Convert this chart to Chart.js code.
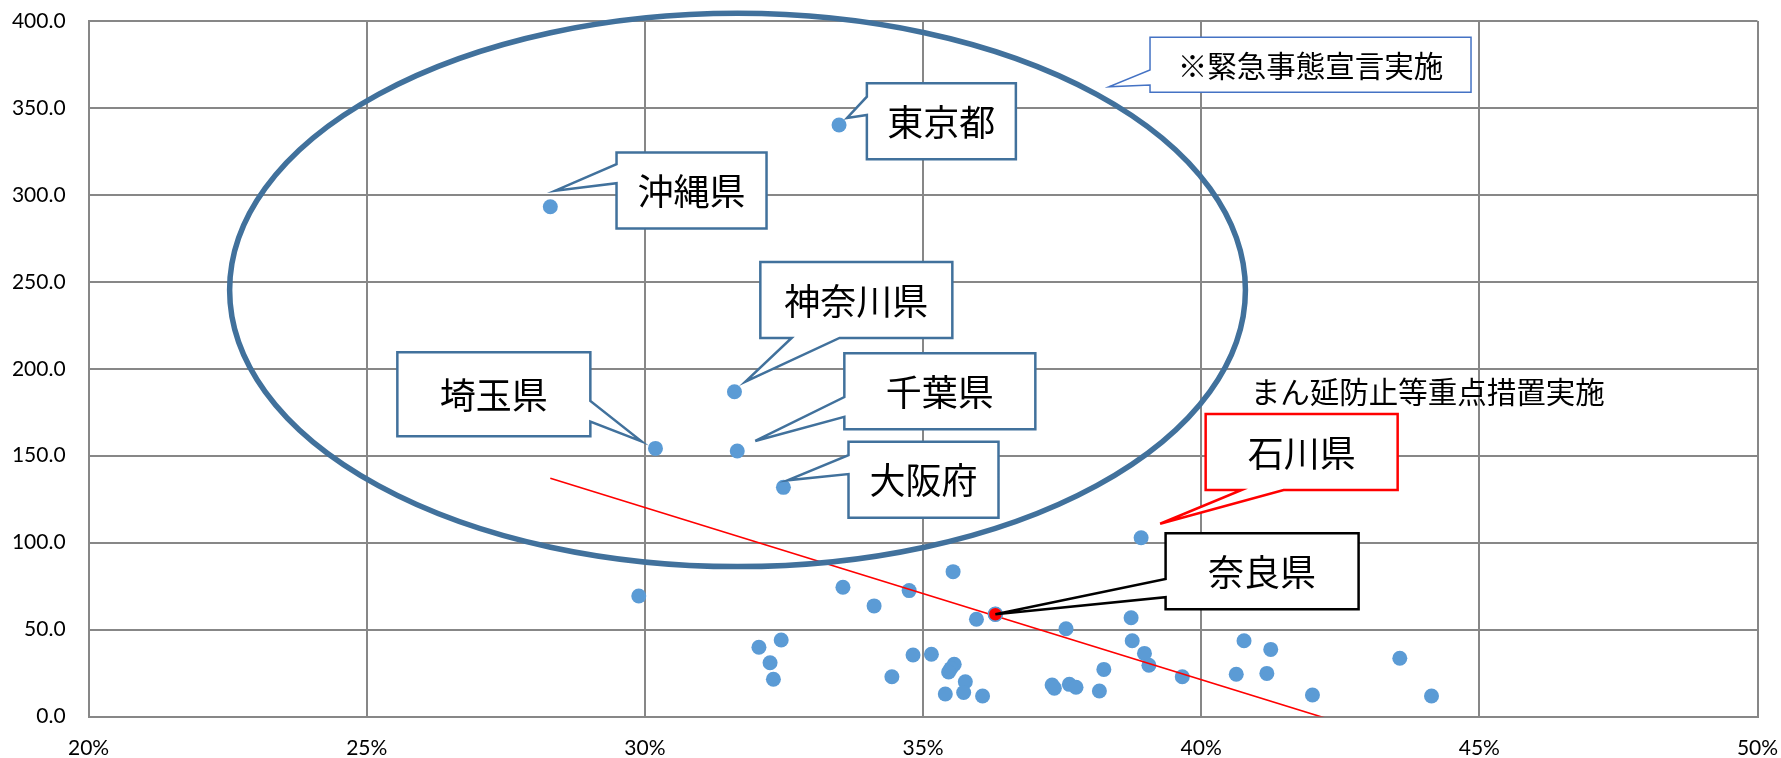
<!DOCTYPE html>
<html lang="ja">
<head>
<meta charset="utf-8">
<title>都道府県 散布図</title>
<script src="https://cdn.jsdelivr.net/npm/chart.js@4.4.1/dist/chart.umd.min.js"></script>
<style>
  html, body { margin: 0; padding: 0; background: #fff; }
  #wrap { width: 1781px; height: 758px; }
</style>
</head>
<body>
<div id="wrap"><canvas id="chartPref" width="1781" height="758"></canvas></div>
<script>
// Puntos con nombre (吹き出し)
const prefNames = ["東京都", "沖縄県", "神奈川県", "千葉県", "埼玉県", "大阪府", "石川県", "奈良県"];
const prefX = [33.49, 28.3, 31.61, 31.66, 30.19, 32.49, 38.92, 36.3];
const prefY = [340.2, 293.2, 186.8, 152.7, 154.2, 131.8, 102.8, 58.8];

// Resto de prefecturas
const otherX = [
  29.89, 33.56, 34.12, 34.75, 35.54, 35.96, 37.57, 38.74, 38.76, 38.98,
  39.06, 39.66, 32.05, 32.45, 32.25, 32.31, 34.44, 34.82, 35.15, 35.56,
  35.5, 35.46, 35.76, 35.73, 35.4, 36.07, 37.32, 37.36, 37.63, 37.75,
  38.17, 38.25, 40.77, 41.25, 40.63, 41.18, 42.0, 43.57, 44.14,
];
const otherY = [
  69.3, 74.3, 63.6, 72.4, 83.3, 55.9, 50.5, 56.8, 43.6, 36.3,
  29.5, 22.9, 39.8, 44.0, 30.9, 21.4, 22.9, 35.4, 35.8, 30.0,
  27.6, 25.6, 20.0, 13.8, 12.9, 11.8, 18.1, 16.3, 18.5, 16.8,
  14.7, 27.1, 43.6, 38.6, 24.3, 24.8, 12.4, 33.5, 11.8,
];

// Linea de tendencia (近似直線)
const trendX = [28.3, 44.14];
const trendY = [137.0, -19.8];

// Ejes
const xTicks = [20, 25, 30, 35, 40, 45, 50];
const yTicks = [0, 50, 100, 150, 200, 250, 300, 350, 400];

// Elipse (緊急事態宣言のグループ), en unidades del grafico
const elipse = { cx: 31.665, cy: 245.3, rx: 9.13, ry: 159.1 };

// Cajas de texto: posicion (esquina sup. izq.) en unidades del grafico
const callouts = [
  { name: "東京都", bx: 33.99, by: 364.2, w: 149, h: 76, side: "left", b: [13.4, 31.7], tip: [8, -7], color: "#41719C", lw: 2.5 },
  { name: "沖縄県", bx: 29.49, by: 324.3, w: 150, h: 76, side: "left", b: [11.6, 30.6], tip: [5, -16], color: "#41719C", lw: 2.5 },
  { name: "神奈川県", bx: 32.075, by: 261.4, w: 192, h: 76, side: "bottom", b: [31.3, 79.2], tip: [11, -10], color: "#41719C", lw: 2.5 },
  { name: "千葉県", bx: 33.585, by: 208.9, w: 191, h: 76, side: "left", b: [43.8, 63.5], tip: [18, -10], color: "#41719C", lw: 2.5 },
  { name: "埼玉県", bx: 25.55, by: 209.5, w: 193, h: 84, side: "right", b: [48.7, 69.4], tip: [-14, -7], color: "#41719C", lw: 2.5 },
  { name: "大阪府", bx: 33.66, by: 158.0, w: 150, h: 76, side: "left", b: [13.3, 32.3], tip: [4, -7], color: "#41719C", lw: 2.5 },
  { name: "石川県", bx: 40.08, by: 174.0, w: 192, h: 76, side: "bottom", b: [36, 78], tip: [19, -14], color: "#FF0000", lw: 2.5 },
  { name: "奈良県", bx: 39.36, by: 105.4, w: 193, h: 76, side: "left", b: [45.7, 64], tip: [0, 0], color: "#000000", lw: 2.5 },
];
const nota = { text: "※緊急事態宣言実施", bx: 39.08, by: 390.6, w: 321, h: 55, side: "left", b: [32.7, 47.7], tipX: 38.34, tipY: 362.2, color: "#4472C4", lw: 1.5 };
const nota2 = { text: "まん延防止等重点措置実施", x: 40.89, y: 186.6 };

const fontCJK = '"Noto Sans CJK JP", "Noto Sans CJK SC", sans-serif';

function dibujarCaja(ctx, c, x0, y0, tx, ty) {
  const { w, h, side, b } = c;
  ctx.beginPath();
  ctx.moveTo(x0, y0);
  ctx.lineTo(x0 + w, y0);
  if (side === "right") {
    ctx.lineTo(x0 + w, y0 + b[0]);
    ctx.lineTo(tx, ty);
    ctx.lineTo(x0 + w, y0 + b[1]);
  }
  ctx.lineTo(x0 + w, y0 + h);
  if (side === "bottom") {
    ctx.lineTo(x0 + b[1], y0 + h);
    ctx.lineTo(tx, ty);
    ctx.lineTo(x0 + b[0], y0 + h);
  }
  ctx.lineTo(x0, y0 + h);
  if (side === "left") {
    ctx.lineTo(x0, y0 + b[1]);
    ctx.lineTo(tx, ty);
    ctx.lineTo(x0, y0 + b[0]);
  }
  ctx.closePath();
  ctx.fillStyle = "#fff";
  ctx.fill();
  ctx.lineWidth = c.lw;
  ctx.lineJoin = "miter";
  ctx.strokeStyle = c.color;
  ctx.stroke();
}

const notas = {
  id: "notas",
  afterDatasetsDraw(chart) {
    const { ctx } = chart;
    const x = chart.scales.x, y = chart.scales.y;
    ctx.save();

    // elipse
    const cx = x.getPixelForValue(elipse.cx);
    const cy = y.getPixelForValue(elipse.cy);
    const rx = x.getPixelForValue(elipse.cx + elipse.rx) - cx;
    const ry = cy - y.getPixelForValue(elipse.cy + elipse.ry);
    ctx.beginPath();
    ctx.ellipse(cx, cy, rx, ry, 0, 0, Math.PI * 2);
    ctx.lineWidth = 5.5;
    ctx.strokeStyle = "#41719C";
    ctx.stroke();

    // cajas de prefecturas
    ctx.textAlign = "center";
    ctx.textBaseline = "middle";
    callouts.forEach((c) => {
      const i = prefNames.indexOf(c.name);
      const px = x.getPixelForValue(prefX[i]);
      const py = y.getPixelForValue(prefY[i]);
      const x0 = x.getPixelForValue(c.bx);
      const y0 = y.getPixelForValue(c.by);
      dibujarCaja(ctx, c, x0, y0, px + c.tip[0], py + c.tip[1]);
      ctx.fillStyle = "#000";
      ctx.font = "36px " + fontCJK;
      ctx.fillText(c.name, x0 + c.w / 2, y0 + c.h / 2 + 1);
    });

    // nota de emergencia
    const nx = x.getPixelForValue(nota.bx);
    const ny = y.getPixelForValue(nota.by);
    dibujarCaja(ctx, nota, nx, ny, x.getPixelForValue(nota.tipX), y.getPixelForValue(nota.tipY));
    ctx.fillStyle = "#000";
    ctx.font = "29.5px " + fontCJK;
    ctx.fillText(nota.text, nx + nota.w / 2, ny + nota.h / 2 + 1);

    // texto suelto
    ctx.textAlign = "left";
    ctx.fillText(nota2.text, x.getPixelForValue(nota2.x), y.getPixelForValue(nota2.y));

    ctx.restore();
  },
};

const iNara = prefNames.indexOf("奈良県");
const puntos = prefX
  .map((v, i) => ({ x: v, y: prefY[i] }))
  .concat(otherX.map((v, i) => ({ x: v, y: otherY[i] })));

const gris = "#878787";
const fuenteEje = { family: "Lato, 'Open Sans', sans-serif", size: 21 };

new Chart(document.getElementById("chartPref"), {
  type: "scatter",
  data: {
    datasets: [
      {
        label: "奈良県",
        data: [{ x: prefX[iNara], y: prefY[iNara] }],
        backgroundColor: "#FF0000",
        borderColor: "#5B9BD5",
        borderWidth: 1.5,
        pointRadius: 7,
        order: 1,
      },
      {
        label: "近似直線",
        data: trendX.map((v, i) => ({ x: v, y: trendY[i] })),
        showLine: true,
        borderColor: "#FF0000",
        borderWidth: 1.6,
        pointRadius: 0,
        fill: false,
        order: 2,
      },
      {
        label: "都道府県",
        data: puntos,
        backgroundColor: "#5B9BD5",
        borderWidth: 0,
        pointRadius: 7.5,
        order: 3,
      },
    ],
  },
  options: {
    responsive: false,
    animation: false,
    devicePixelRatio: 1,
    events: [],
    layout: { padding: { top: 21, right: 23.5, bottom: 0, left: 0 } },
    plugins: { legend: { display: false }, tooltip: { enabled: false } },
    scales: {
      x: {
        type: "linear",
        min: xTicks[0],
        max: xTicks[xTicks.length - 1],
        afterBuildTicks: (s) => {
          s.ticks = xTicks.map((v) => ({ value: v }));
        },
        afterFit: (s) => {
          s.height = 41.5;
        },
        ticks: { callback: (v) => v + "%", font: fuenteEje, color: "#000", padding: 0, maxRotation: 0 },
        grid: { color: gris, lineWidth: 2, drawTicks: true, tickLength: 19, tickColor: "rgba(0,0,0,0)" },
        border: { color: gris, width: 2 },
      },
      y: {
        min: yTicks[0],
        max: yTicks[yTicks.length - 1],
        afterBuildTicks: (s) => {
          s.ticks = yTicks.map((v) => ({ value: v }));
        },
        afterFit: (s) => {
          s.width = 88.6;
        },
        ticks: { callback: (v) => v.toFixed(1), font: fuenteEje, color: "#000", padding: 0 },
        grid: { color: gris, lineWidth: 2, drawTicks: true, tickLength: 23, tickColor: "rgba(0,0,0,0)" },
        border: { color: gris, width: 2 },
      },
    },
  },
  plugins: [notas],
});
</script>
</body>
</html>
